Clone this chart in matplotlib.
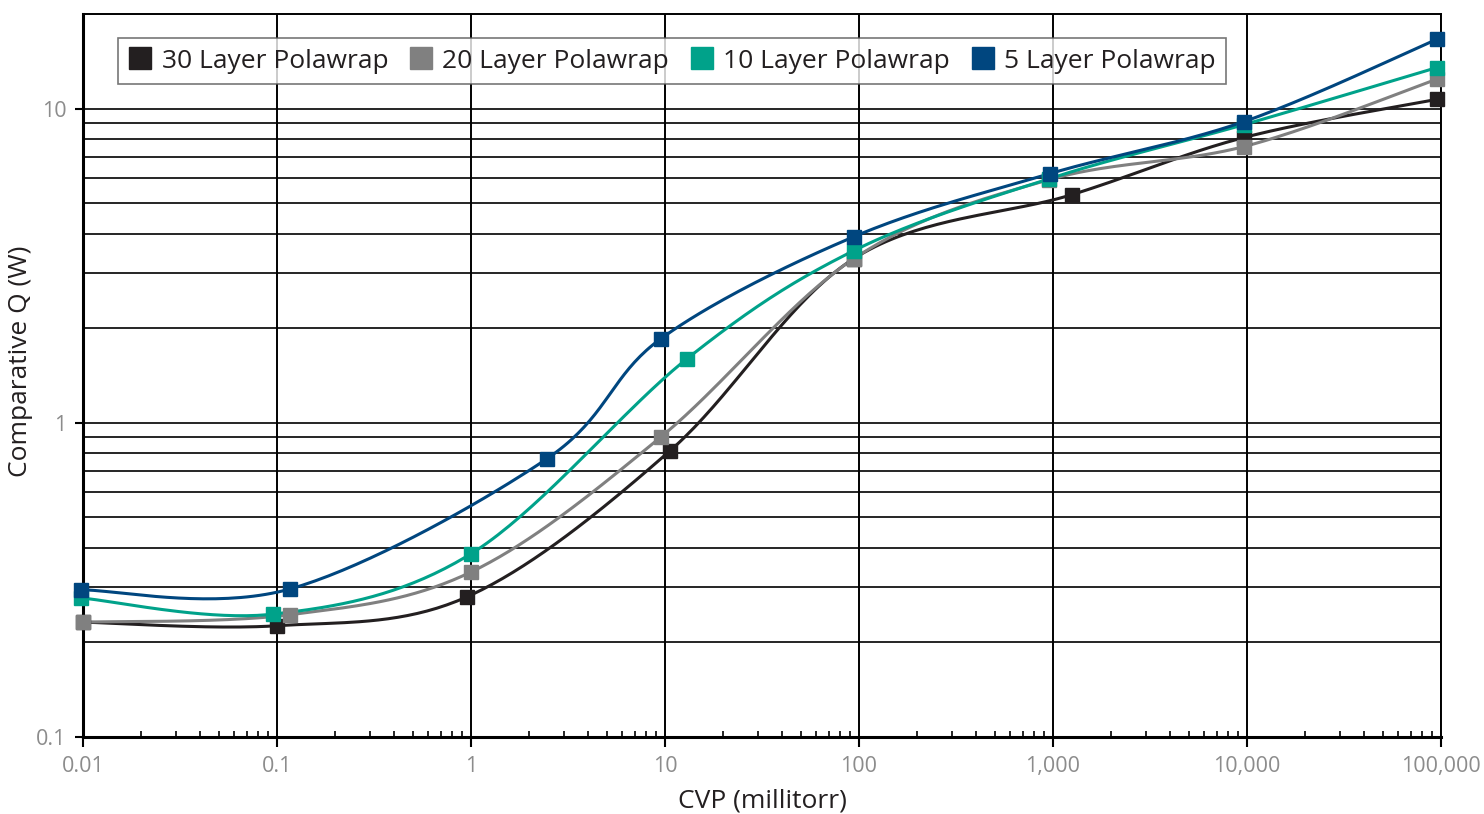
import numpy as np
import matplotlib.pyplot as plt
from matplotlib.ticker import FixedLocator, NullFormatter, LogLocator

plt.rcParams['font.family'] = ['Open Sans', 'DejaVu Sans']

labels = ['30 Layer Polawrap', '20 Layer Polawrap', '10 Layer Polawrap', '5 Layer Polawrap']
colors = ['#231f20', '#808080', '#00a28a', '#00467f']

x30 = [0.01, 0.1, 0.95, 10.6, 94, 1250, 9650, 95000]
y30 = [0.232, 0.226, 0.279, 0.814, 3.33, 5.32, 8.09, 10.7]

x20 = [0.01, 0.117, 1.0, 9.5, 94, 955, 9650, 95000]
y20 = [0.232, 0.245, 0.335, 0.90, 3.33, 5.94, 7.57, 12.4]

x10 = [0.0098, 0.095, 1.0, 13.0, 94, 955, 9650, 95000]
y10 = [0.277, 0.246, 0.383, 1.60, 3.53, 5.98, 8.89, 13.5]

x5 = [0.0098, 0.117, 2.46, 9.5, 94, 965, 9650, 95000]
y5 = [0.294, 0.296, 0.768, 1.85, 3.91, 6.21, 9.09, 16.6]

series = [(x30, y30), (x20, y20), (x10, y10), (x5, y5)]


def smooth(xs, ys, n=40):
    # Excel-like smoothed line: bezier with catmull-rom control points, in log space
    px = np.log10(xs)
    py = np.log10(ys)
    p = np.column_stack([px, py])
    out = []
    for i in range(len(p) - 1):
        p0 = p[i - 1] if i > 0 else p[i]
        p1 = p[i]
        p2 = p[i + 1]
        p3 = p[i + 2] if i + 2 < len(p) else p[i + 1]
        c1 = p1 + (p2 - p0) / 6
        c2 = p2 - (p3 - p1) / 6
        t = np.linspace(0, 1, n)[:, None]
        seg = ((1 - t) ** 3) * p1 + 3 * ((1 - t) ** 2) * t * c1 + 3 * (1 - t) * t ** 2 * c2 + t ** 3 * p2
        out.append(seg)
    out = np.vstack(out)
    return 10 ** out[:, 0], 10 ** out[:, 1]


fig = plt.figure(figsize=(14.84, 8.14), dpi=100)
ax = fig.add_axes([83 / 1484, 1 - 737 / 814, (1441 - 83) / 1484, (737 - 14) / 814])

ax.set_xscale('log')
ax.set_yscale('log')
ax.set_xlim(0.01, 100000)
ax.set_ylim(0.1, 20)

# grid
ax.set_axisbelow(True)
for xv in [0.1, 1, 10, 100, 1000, 10000, 100000]:
    ax.axvline(xv, color='black', lw=1.4, zorder=0)
for dec in [0.1, 1, 10]:
    for m in range(2, 10):
        v = dec * m
        if v < 20:
            ax.axhline(v, color='black', lw=1.2, zorder=0)
ax.axhline(1, color='black', lw=1.2, zorder=0)
ax.axhline(10, color='black', lw=1.2, zorder=0)

for (xs, ys), c, lab in zip(series, colors, labels):
    sx, sy = smooth(xs, ys)
    ax.plot(sx, sy, color=c, lw=2.2, zorder=3, clip_on=False)
    ax.plot(xs, ys, ls='none', marker='s', ms=9.5, color=c, zorder=4, label=lab,
            clip_on=False)

ax.xaxis.set_major_locator(FixedLocator([0.01, 0.1, 1, 10, 100, 1000, 10000, 100000]))
ax.set_xticklabels(['0.01', '0.1', '1', '10', '100', '1,000', '10,000', '100,000'])
ax.xaxis.set_minor_locator(LogLocator(base=10, subs=np.arange(2, 10)))
ax.xaxis.set_minor_formatter(NullFormatter())
ax.yaxis.set_major_locator(FixedLocator([0.1, 1, 10]))
ax.set_yticklabels(['0.1', '1', '10'])
ax.yaxis.set_minor_locator(FixedLocator([]))

ax.tick_params(axis='x', which='major', direction='out', length=7, width=1.5,
               labelsize=15.5, labelcolor='#8c8c8c', pad=7)
ax.tick_params(axis='x', which='minor', direction='in', length=4, width=1.2)
ax.tick_params(axis='y', which='major', direction='out', length=6, width=1.5,
               labelsize=15.5, labelcolor='#8c8c8c', pad=6)

for s in ['left', 'bottom']:
    ax.spines[s].set_linewidth(2.2)
ax.spines['top'].set_linewidth(1.4)
ax.spines['right'].set_linewidth(1.4)

ax.set_xlabel('CVP (millitorr)', fontsize=19, color='#231f20', labelpad=8)
ax.set_ylabel('Comparative Q (W)', fontsize=19, color='#231f20')
ax.yaxis.set_label_coords(-0.037, 0.52)

leg = ax.legend(loc='upper left', bbox_to_anchor=(35 / 1358, 1 - 24 / 723), ncol=4,
                fontsize=19, frameon=True, fancybox=False, edgecolor='#555555',
                handlelength=0.9, handletextpad=0.35, columnspacing=0.8,
                borderpad=0.4, borderaxespad=0, markerscale=1.7)
leg.get_frame().set_linewidth(1.2)
for t in leg.get_texts():
    t.set_color('#231f20')

fig.savefig('out.png', dpi=100, facecolor='white')
